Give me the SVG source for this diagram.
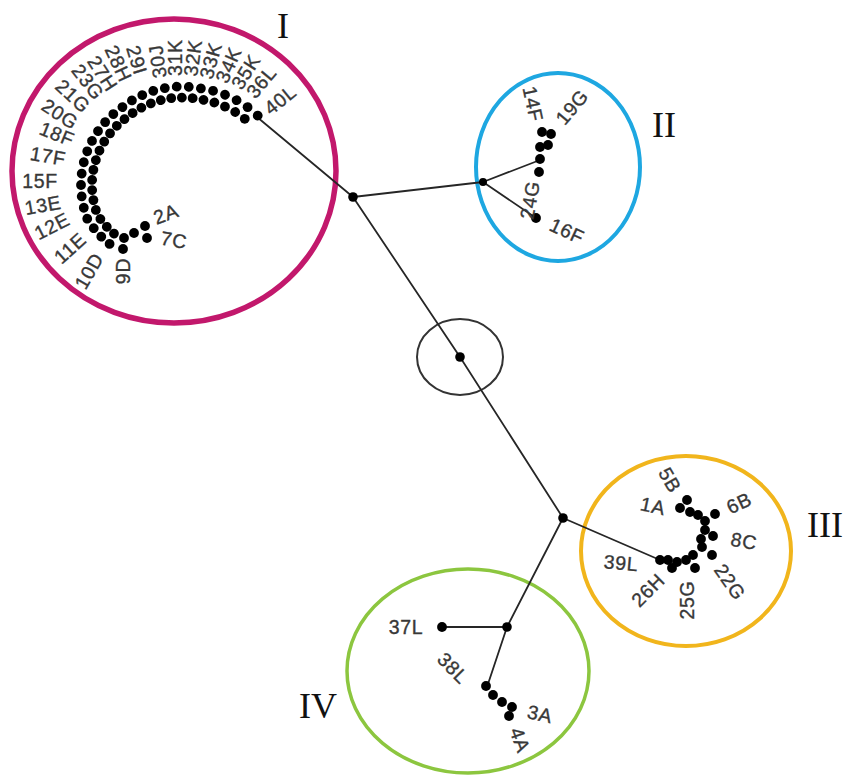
<svg xmlns="http://www.w3.org/2000/svg" xmlns:xlink="http://www.w3.org/1999/xlink" width="849" height="778" viewBox="0 0 849 778">
  <style>
    .lb { font-family: "Liberation Sans", Arial, sans-serif; font-size: 19.5px; fill: #383838; stroke: #383838; stroke-width: 0.35px; letter-spacing: 0.7px; }
    .rn { font-family: "Liberation Serif", "Times New Roman", serif; font-size: 36px; fill: #111; }
    .edge { stroke: #262626; stroke-width: 1.8; fill: none; stroke-linecap: round; }
    .ring { fill: none; }
  </style>
  <defs>
    <circle id="d" r="4.9" fill="#000"/>
    <circle id="hub" r="4.8" fill="#000"/>
  </defs>
  <rect width="849" height="778" fill="#fff"/>

  <!-- group outlines -->
  <ellipse class="ring" cx="174" cy="171" rx="162" ry="152" stroke="#c2186c" stroke-width="5.5"/>
  <ellipse class="ring" cx="558" cy="167" rx="82" ry="94" stroke="#1ea7e1" stroke-width="4"/>
  <ellipse class="ring" cx="686" cy="551" rx="105" ry="95" stroke="#f1b51c" stroke-width="4"/>
  <ellipse class="ring" cx="468" cy="671" rx="121" ry="102" stroke="#8cc63f" stroke-width="3.5"/>
  <ellipse class="ring" cx="460" cy="357" rx="43" ry="38" stroke="#333" stroke-width="2"/>

  <!-- tree edges -->
  <g id="connectors">
    <path class="edge" d="M257 117 L353 197"/>
    <path class="edge" d="M353 197 L483 182"/>
    <path class="edge" d="M483 182 L540 160"/>
    <path class="edge" d="M483 182 L536 218"/>
    <path class="edge" d="M353 197 L460 357 L563 518"/>
    <path class="edge" d="M563 518 L660 560"/>
    <path class="edge" d="M563 518 L507 627"/>
    <path class="edge" d="M507 627 L442 627"/>
    <path class="edge" d="M507 627 L487 687"/>
  </g>

  <!-- internal branch points -->
  <g id="hub-a"><use href="#hub" x="353" y="197"/></g>
  <g id="hub-b"><use href="#hub" x="460" y="357"/></g>
  <g id="hub-c"><use href="#hub" x="563" y="518"/></g>
  <g id="hub-d"><use href="#hub" x="507" y="627"/></g>
  <g id="hub-e"><circle cx="483" cy="182" r="4" fill="#000"/></g>

  <!-- group I: long arc of isolates -->
  <g id="cluster-I">
    <g transform="translate(175 185)">
      <use href="#d" transform="rotate(-40) translate(108)"/>
      <use href="#d" transform="rotate(-47) translate(106.4)"/>
      <use href="#d" transform="rotate(-54) translate(104.8)"/>
      <use href="#d" transform="rotate(-61) translate(103.2)"/>
      <use href="#d" transform="rotate(-68) translate(101.6)"/>
      <use href="#d" transform="rotate(-75) translate(100)"/>
      <use href="#d" transform="rotate(-82) translate(99.1)"/>
      <use href="#d" transform="rotate(-89) translate(98.3)"/>
      <use href="#d" transform="rotate(-96) translate(97.4)"/>
      <use href="#d" transform="rotate(-103) translate(96.6)"/>
      <use href="#d" transform="rotate(-110) translate(95.7)"/>
      <use href="#d" transform="rotate(-117) translate(94.9)"/>
      <use href="#d" transform="rotate(-124) translate(94)"/>
      <use href="#d" transform="rotate(-131) translate(94)"/>
      <use href="#d" transform="rotate(-138) translate(94)"/>
      <use href="#d" transform="rotate(-145) translate(94)"/>
      <use href="#d" transform="rotate(-152) translate(94)"/>
      <use href="#d" transform="rotate(-159) translate(94)"/>
      <use href="#d" transform="rotate(-166) translate(94)"/>
      <use href="#d" transform="rotate(-173) translate(94)"/>
      <use href="#d" transform="rotate(-180) translate(94)"/>
      <use href="#d" transform="rotate(-187) translate(94)"/>
      <use href="#d" transform="rotate(-194) translate(94)"/>
      <use href="#d" transform="rotate(-201) translate(94)"/>
      <use href="#d" transform="rotate(-208) translate(92)"/>
      <use href="#d" transform="rotate(-215) translate(90)"/>
      <use href="#d" transform="rotate(-222) translate(88)"/>

      <use href="#d" transform="rotate(-43.5) translate(96.2)"/>
      <use href="#d" transform="rotate(-50.5) translate(94.6)"/>
      <use href="#d" transform="rotate(-57.5) translate(93)"/>
      <use href="#d" transform="rotate(-64.5) translate(91.4)"/>
      <use href="#d" transform="rotate(-71.5) translate(89.8)"/>
      <use href="#d" transform="rotate(-78.5) translate(88.6)"/>
      <use href="#d" transform="rotate(-85.5) translate(87.7)"/>
      <use href="#d" transform="rotate(-92.5) translate(86.9)"/>
      <use href="#d" transform="rotate(-99.5) translate(86)"/>
      <use href="#d" transform="rotate(-106.5) translate(85.1)"/>
      <use href="#d" transform="rotate(-113.5) translate(84.3)"/>
      <use href="#d" transform="rotate(-120.5) translate(83.5)"/>
      <use href="#d" transform="rotate(-127.5) translate(83)"/>
      <use href="#d" transform="rotate(-134.5) translate(83)"/>
      <use href="#d" transform="rotate(-141.5) translate(83)"/>
      <use href="#d" transform="rotate(-148.5) translate(83)"/>
      <use href="#d" transform="rotate(-155.5) translate(83)"/>
      <use href="#d" transform="rotate(-162.5) translate(83)"/>
      <use href="#d" transform="rotate(-169.5) translate(83)"/>
      <use href="#d" transform="rotate(-176.5) translate(83)"/>
      <use href="#d" transform="rotate(-183.5) translate(83)"/>
      <use href="#d" transform="rotate(-190.5) translate(83)"/>
      <use href="#d" transform="rotate(-197.5) translate(83)"/>
      <use href="#d" transform="rotate(-204.5) translate(82)"/>
      <use href="#d" transform="rotate(-211.5) translate(80)"/>
      <use href="#d" transform="rotate(-218.5) translate(78)"/>

      <!-- radial labels over the top of the arc -->
      <text class="lb" text-anchor="end" dy="0.35em" transform="rotate(-123) translate(114) rotate(180)">27H</text>
      <text class="lb" text-anchor="end" dy="0.35em" transform="rotate(-115) translate(115) rotate(180)">28H</text>
      <text class="lb" text-anchor="end" dy="0.35em" transform="rotate(-107) translate(116) rotate(180)">29I</text>
      <text class="lb" dy="0.35em" transform="rotate(-98) translate(108)">30J</text>
      <text class="lb" dy="0.35em" transform="rotate(-90) translate(109)">31K</text>
      <text class="lb" dy="0.35em" transform="rotate(-82) translate(110)">32K</text>
      <text class="lb" dy="0.35em" transform="rotate(-74) translate(111)">33K</text>
      <text class="lb" dy="0.35em" transform="rotate(-66) translate(113)">34K</text>
      <text class="lb" dy="0.35em" transform="rotate(-58) translate(115)">35K</text>
      <text class="lb" dy="0.35em" transform="rotate(-50) translate(117)">36L</text>
      <text class="lb" dy="0.35em" transform="rotate(-39) translate(118)">40L</text>
    </g>
    <!-- tail of the arc with its short side branch -->
    <use href="#d" x="123" y="249"/>
    <use href="#d" x="124" y="238"/>
    <use href="#d" x="134" y="233"/>
    <use href="#d" x="145" y="226"/>
    <use href="#d" x="147" y="238"/>

    <text class="lb" text-anchor="middle" dy="0.35em" transform="translate(89 271) rotate(-60)">10D</text>
    <text class="lb" text-anchor="middle" dy="0.35em" transform="translate(70 248) rotate(-42)">11E</text>
    <text class="lb" text-anchor="middle" dy="0.35em" transform="translate(52 226) rotate(-27)">12E</text>
    <text class="lb" text-anchor="middle" dy="0.35em" transform="translate(43 205) rotate(-10)">13E</text>
    <text class="lb" text-anchor="middle" dy="0.35em" transform="translate(40 181)">15F</text>
    <text class="lb" text-anchor="middle" dy="0.35em" transform="translate(48 156) rotate(10)">17F</text>
    <text class="lb" text-anchor="middle" dy="0.35em" transform="translate(57 134) rotate(22)">18F</text>
    <text class="lb" text-anchor="middle" dy="0.35em" transform="translate(60 114) rotate(33)">20G</text>
    <text class="lb" text-anchor="middle" dy="0.35em" transform="translate(73 96) rotate(43)">21G</text>
    <text class="lb" text-anchor="middle" dy="0.35em" transform="translate(88 82) rotate(52)">23G</text>
    <text class="lb" text-anchor="middle" dy="0.35em" transform="translate(123 271) rotate(-90)">9D</text>
    <text class="lb" text-anchor="middle" dy="0.35em" transform="translate(166 214) rotate(-20)">2A</text>
    <text class="lb" text-anchor="middle" dy="0.35em" transform="translate(174 240) rotate(10)">7C</text>
    <text class="rn" x="283" y="38" text-anchor="middle">I</text>
  </g>

  <!-- group II -->
  <g id="cluster-II">
    <use href="#d" x="542" y="132"/>
    <use href="#d" x="551" y="134"/>
    <use href="#d" x="548" y="145"/>
    <use href="#d" x="540" y="147"/>
    <use href="#d" x="540" y="159"/>
    <use href="#d" x="539" y="172"/>
    <use href="#d" x="536" y="218"/>
    <text class="lb" text-anchor="middle" dy="0.35em" transform="translate(533 104) rotate(78)">14F</text>
    <text class="lb" text-anchor="middle" dy="0.35em" transform="translate(572 107) rotate(-50)">19G</text>
    <text class="lb" text-anchor="middle" dy="0.35em" transform="translate(530 200) rotate(-80)">24G</text>
    <text class="lb" text-anchor="middle" dy="0.35em" transform="translate(567 231) rotate(25)">16F</text>
    <text class="rn" x="664" y="137" text-anchor="middle">II</text>
  </g>

  <!-- group III -->
  <g id="cluster-III">
    <use href="#d" x="687" y="500"/>
    <use href="#d" x="680" y="508"/>
    <use href="#d" x="690" y="512"/>
    <use href="#d" x="698" y="515"/>
    <use href="#d" x="705" y="521"/>
    <use href="#d" x="715" y="514"/>
    <use href="#d" x="705" y="530"/>
    <use href="#d" x="713" y="536"/>
    <use href="#d" x="701" y="539"/>
    <use href="#d" x="702" y="547"/>
    <use href="#d" x="712" y="555"/>
    <use href="#d" x="693" y="555"/>
    <use href="#d" x="686" y="560"/>
    <use href="#d" x="695" y="568"/>
    <use href="#d" x="677" y="562"/>
    <use href="#d" x="672" y="568"/>
    <use href="#d" x="668" y="560"/>
    <use href="#d" x="660" y="560"/>
    <text class="lb" text-anchor="middle" dy="0.35em" transform="translate(670 480) rotate(60)">5B</text>
    <text class="lb" text-anchor="middle" dy="0.35em" transform="translate(653 506) rotate(12)">1A</text>
    <text class="lb" text-anchor="middle" dy="0.35em" transform="translate(739 503) rotate(-25)">6B</text>
    <text class="lb" text-anchor="middle" dy="0.35em" transform="translate(744 541) rotate(10)">8C</text>
    <text class="lb" text-anchor="middle" dy="0.35em" transform="translate(730 582) rotate(55)">22G</text>
    <text class="lb" text-anchor="middle" dy="0.35em" transform="translate(687 600) rotate(-90)">25G</text>
    <text class="lb" text-anchor="middle" dy="0.35em" transform="translate(648 590) rotate(-45)">26H</text>
    <text class="lb" text-anchor="middle" dy="0.35em" transform="translate(621 563) rotate(5)">39L</text>
    <text class="rn" x="825" y="537" text-anchor="middle">III</text>
  </g>

  <!-- group IV -->
  <g id="cluster-IV">
    <use href="#d" x="442" y="627"/>
    <use href="#d" x="486" y="686"/>
    <use href="#d" x="493" y="695"/>
    <use href="#d" x="502" y="702"/>
    <use href="#d" x="512" y="707"/>
    <use href="#d" x="509" y="716"/>
    <text class="lb" text-anchor="middle" dy="0.35em" transform="translate(406 627)">37L</text>
    <text class="lb" text-anchor="middle" dy="0.35em" transform="translate(453 668) rotate(45)">38L</text>
    <text class="lb" text-anchor="middle" dy="0.35em" transform="translate(540 714) rotate(12)">3A</text>
    <text class="lb" text-anchor="middle" dy="0.35em" transform="translate(520 740) rotate(70)">4A</text>
    <text class="rn" x="318" y="718" text-anchor="middle">IV</text>
  </g>
</svg>
